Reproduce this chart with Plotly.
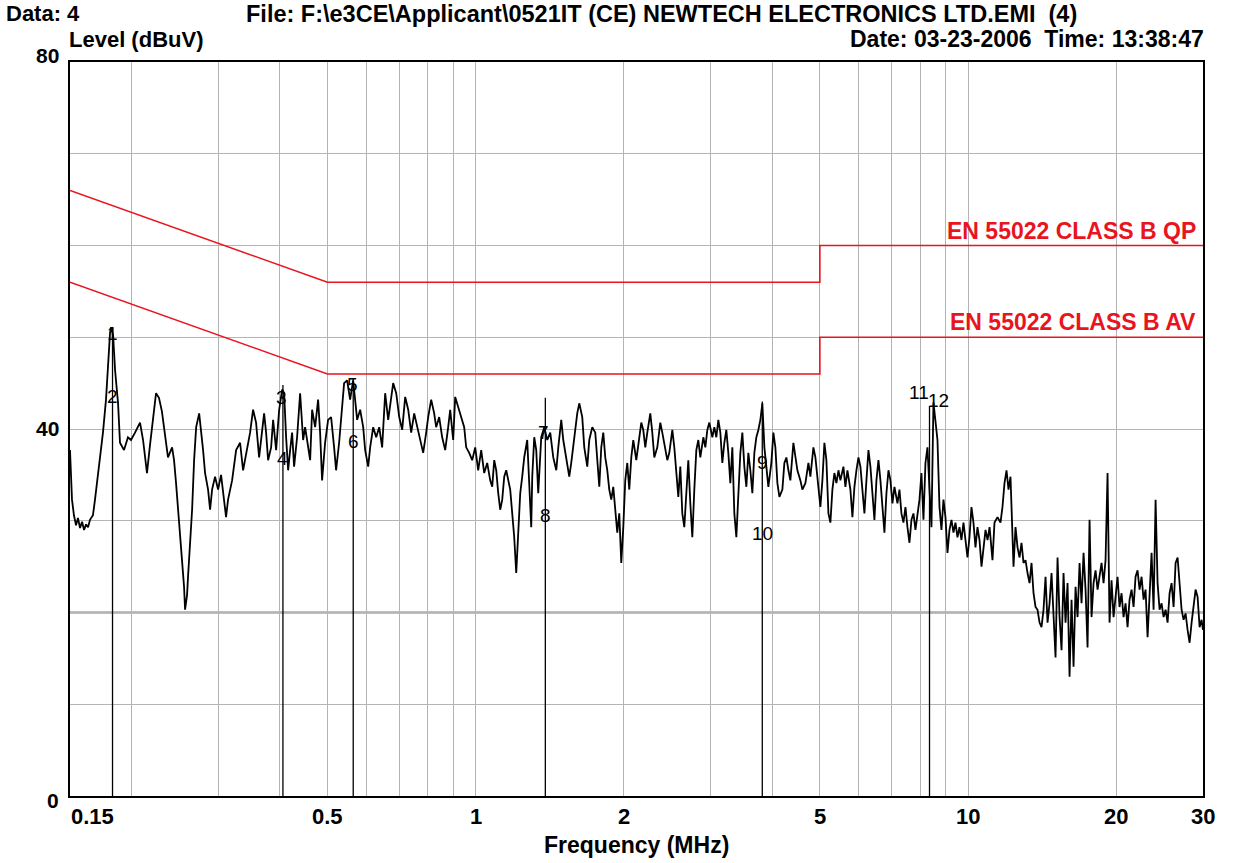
import math
import plotly.graph_objects as go

# ---------------- data ----------------
trace_freq = [
    0.150, 0.1507, 0.1514, 0.1528, 0.1543, 0.1557, 0.1572, 0.1587, 0.1602, 0.1617,
    0.1632, 0.1647, 0.1670, 0.1686, 0.1709, 0.1726, 0.1750, 0.1775, 0.1792, 0.1809,
    0.1818, 0.1835, 0.1852, 0.1878, 0.1895, 0.1931, 0.1967, 0.1995, 0.2033, 0.2081,
    0.2111, 0.2130, 0.2150, 0.2181, 0.2222, 0.2243, 0.2274, 0.2306, 0.2328, 0.2372,
    0.2418, 0.2440, 0.2463, 0.2498, 0.2533, 0.2557, 0.2569, 0.2593, 0.2605, 0.2630,
    0.2655, 0.2680, 0.2706, 0.2744, 0.2769, 0.2795, 0.2821, 0.2861, 0.2888, 0.2915,
    0.2956, 0.2998, 0.3040, 0.3083, 0.3112, 0.3141, 0.3201, 0.3262, 0.3323, 0.3370,
    0.3418, 0.3482, 0.3531, 0.3581, 0.3632, 0.3683, 0.3718, 0.3753, 0.3788, 0.3842,
    0.3878, 0.3933, 0.3989, 0.4045, 0.4083, 0.4121, 0.4160, 0.4199, 0.4238, 0.4278,
    0.4338, 0.4400,
    0.4462, 0.4504, 0.4568, 0.4611, 0.4654, 0.4720, 0.4786, 0.4831, 0.4876, 0.4945,
    0.5015, 0.5086, 0.5158, 0.5206, 0.5280, 0.5355, 0.5405, 0.5481, 0.5559, 0.5638,
    0.5691, 0.5745, 0.5826, 0.5909, 0.5964, 0.6049, 0.6105, 0.6192, 0.6280, 0.6369,
    0.6457, 0.6549, 0.6642, 0.6704, 0.6799, 0.6896, 0.6994, 0.7091, 0.7192, 0.7294,
    0.7396, 0.7501, 0.7607, 0.7714, 0.7823, 0.7934, 0.8008, 0.8121, 0.8236, 0.8313,
    0.8431, 0.8550, 0.8671, 0.8794, 0.8876, 0.9001, 0.9086, 0.9214, 0.9346, 0.9477,
    0.9566, 0.9701, 0.9839, 0.9978, 1.0118, 1.0262, 1.0407, 1.0554, 1.0703, 1.0804,
    1.0906, 1.1009, 1.1112, 1.1216, 1.1322, 1.1428, 1.1535, 1.1644, 1.1753, 1.1864,
    1.1975, 1.2088, 1.2201, 1.2316, 1.2432, 1.2548, 1.2725, 1.2845, 1.2967,
    1.3028, 1.3150, 1.3274, 1.3398, 1.3588, 1.3781, 1.3976, 1.4172, 1.4373, 1.4577,
    1.4716, 1.4921, 1.5062, 1.5276, 1.5490, 1.5635, 1.5857, 1.6079, 1.6232, 1.6461,
    1.6616, 1.6852, 1.7010, 1.7250, 1.7494, 1.7659, 1.7825, 1.7991, 1.8161, 1.8331,
    1.8504, 1.8677, 1.8853, 1.9030, 1.9210, 1.9389, 1.9571, 1.9756, 1.9942, 2.0127,
    2.0317, 2.0509, 2.0703, 2.0897, 2.1193, 2.1392, 2.1694, 2.1897, 2.2103, 2.2311,
    2.2627, 2.2840, 2.3054, 2.3381, 2.3711, 2.3933, 2.4273, 2.4501, 2.4731, 2.5081,
    2.5316, 2.5554, 2.5794, 2.6037, 2.6281, 2.6528, 2.6777, 2.7029, 2.7284, 2.7540,
    2.7799, 2.8060, 2.8324, 2.8591, 2.8997, 2.9269, 2.9545, 2.9821, 3.0243, 3.0526,
    3.0814, 3.1103, 3.1396, 3.1691, 3.1988, 3.2288, 3.2591, 3.2900, 3.3209, 3.3521,
    3.3836, 3.4154, 3.4476, 3.4800, 3.5127, 3.5457, 3.5790, 3.6127, 3.6467, 3.6809,
    3.7155, 3.7504, 3.7858, 3.8213, 3.8573, 3.8935, 3.9300,
    3.9857, 4.0234, 4.0611, 4.0996, 4.1381, 4.1963, 4.2358, 4.2757, 4.3164, 4.3563,
    4.4182, 4.4595, 4.5018, 4.5650, 4.6079, 4.6732, 4.7398, 4.7836, 4.8515, 4.8970,
    4.9668, 5.0128, 5.0599, 5.1075, 5.1557, 5.2048, 5.2529, 5.3023, 5.3521, 5.4026,
    5.4541, 5.5045, 5.5827, 5.6350, 5.6883, 5.7682, 5.8224, 5.8774, 5.9326, 5.9890,
    6.0445, 6.1013, 6.1588, 6.2168, 6.2758, 6.3340, 6.3935, 6.4538, 6.5145, 6.5764,
    6.6374, 6.6998, 6.7629, 6.8266, 6.8915, 6.9554, 7.0208, 7.0869, 7.1877, 7.2553,
    7.3229, 7.3921, 7.4614, 7.5318, 7.6029, 7.6736, 7.7456, 7.8187, 7.8924, 7.9670,
    8.0411, 8.1168, 8.1932, 8.2707, 8.3485, 8.4263, 8.5058, 8.5858, 8.6667, 8.7484,
    8.8300, 8.9132, 8.9970, 9.0818, 9.1673, 9.2530, 9.3400, 9.4279, 9.5168, 9.6064,
    9.6961, 9.7875, 9.8792, 9.9725, 10.066, 10.160, 10.255, 10.353, 10.450, 10.549,
    10.648, 10.748, 10.850, 10.953, 11.057,
    11.209, 11.315, 11.476, 11.637, 11.746, 11.857, 11.969, 12.083, 12.195, 12.310,
    12.368, 12.484, 12.602, 12.721, 12.839, 12.959, 13.082, 13.205, 13.331, 13.454,
    13.581, 13.709, 13.838, 13.969, 14.098, 14.231, 14.365, 14.501, 14.637, 14.774,
    14.913, 15.053, 15.195, 15.339, 15.481, 15.627, 15.774, 15.923, 16.073, 16.223,
    16.376, 16.530, 16.686, 16.843, 17.000, 17.160, 17.322, 17.485, 17.649, 17.814,
    17.982, 18.151, 18.322, 18.494, 18.667, 18.842, 19.020, 19.199, 19.378, 19.561,
    19.745, 19.931, 20.118, 20.305, 20.498, 20.690, 20.885, 21.082, 21.280, 21.480,
    21.682, 21.886, 22.091, 22.299, 22.509, 22.721, 22.934, 23.150, 23.367, 23.587,
    23.809, 24.034, 24.259, 24.488, 24.717, 24.950, 25.185, 25.422, 25.661, 25.901,
    26.145, 26.391, 26.640, 26.890, 27.142, 27.396, 27.654, 27.914, 28.177, 28.442,
    28.708, 28.978, 29.250, 29.526, 29.804, 30.0,
]

trace_level = [
    37.7, 34.4, 32.3, 30.6, 29.5, 30.3, 29.2, 29.9, 29.0, 29.6,
    29.3, 30.1, 30.6, 32.3, 34.8, 37.2, 39.6, 43.2, 47.0, 50.5,
    51.1, 50.2, 46.4, 42.8, 38.5, 37.7, 39.1, 38.8, 39.6, 40.7,
    38.8, 36.9, 35.2, 38.3, 42.1, 43.9, 43.4, 41.9, 40.2, 36.9,
    38.0, 36.6, 34.1, 29.8, 26.0, 22.8, 20.3, 21.9, 23.9, 27.6,
    31.2, 36.6, 40.2, 41.7, 39.9, 37.7, 35.2, 33.4, 31.2, 33.4,
    34.8, 33.4, 35.0, 32.6, 30.4, 32.3, 34.4, 37.7, 38.5, 35.5,
    37.4, 39.6, 42.1, 40.7, 36.9, 40.2, 41.7, 39.6, 36.6, 38.0,
    41.0, 37.7, 42.1, 44.3, 43.9, 39.1, 35.5, 37.7, 39.6, 35.9,
    39.1, 43.9,
    38.8, 40.2, 37.7, 36.6, 42.1, 40.2, 43.2, 39.6, 34.4, 38.5,
    41.0, 41.3, 38.0, 35.5, 38.5, 42.4, 45.0, 45.3, 43.2, 45.3,
    43.2, 41.0, 42.1, 40.2, 37.7, 35.9, 38.0, 40.2, 39.1, 40.2,
    38.0, 43.9, 41.0, 42.8, 45.0, 43.9, 41.3, 39.9, 43.5, 42.1,
    39.6, 41.7, 40.2, 38.8, 37.4, 39.6, 41.3, 43.2, 41.7, 40.2,
    41.3, 39.1, 37.7, 40.2, 42.1, 38.8, 43.5, 42.4, 41.3, 40.2,
    38.0, 37.4, 36.6, 38.0, 35.5, 37.7, 35.2, 36.3, 34.4, 33.7,
    36.6, 35.5, 33.0, 31.2, 32.3, 34.8, 35.5, 34.4, 33.4, 30.8,
    28.2, 24.3, 28.7, 33.0, 34.8, 36.9, 38.8, 33.7, 29.3,
    34.8, 39.1, 37.7, 33.0, 39.1, 40.2, 38.8, 39.6, 36.9, 35.5,
    38.0, 41.0, 38.8, 36.6, 34.8, 36.3, 39.1, 41.7, 42.8, 41.3,
    38.0, 35.9, 38.8, 40.2, 39.6, 36.9, 33.7, 38.0, 39.6, 36.9,
    35.5, 33.4, 32.3, 33.7, 31.5, 28.7, 30.8, 25.4, 29.3, 34.4,
    36.3, 33.4, 36.9, 38.8, 36.6, 38.5, 40.7, 39.9, 38.0, 39.6,
    41.7, 39.6, 36.9, 38.0, 40.7, 39.6, 37.7, 36.6, 37.4, 39.9,
    38.0, 35.2, 32.6, 35.9, 30.8, 29.3, 33.7, 36.6, 31.9, 28.2,
    33.4, 37.7, 38.8, 36.9, 39.1, 38.0, 39.9, 40.7, 39.1, 40.2,
    39.1, 41.0, 39.6, 36.3, 38.5, 39.9, 37.4, 34.1, 38.0, 30.8,
    28.2, 33.0, 37.4, 39.6, 35.9, 33.7, 37.4, 35.5, 33.0, 37.4,
    39.1, 39.9, 41.0, 42.8, 38.0, 35.9, 33.7,
    36.3, 39.6, 38.0, 34.1, 32.6, 33.4, 36.3, 36.9, 35.5, 34.4,
    38.5, 36.9, 35.5, 34.4, 33.4, 34.1, 36.3, 34.8, 38.0, 36.9,
    33.4, 31.5, 34.4, 38.5, 36.6, 30.8, 29.8, 33.4, 35.2, 34.1,
    35.5, 34.4, 35.9, 33.7, 35.5, 33.4, 30.4, 33.7, 35.5, 36.9,
    35.9, 33.4, 30.8, 34.4, 37.7, 35.9, 33.4, 30.1, 34.4, 36.6,
    34.4, 31.9, 28.7, 33.0, 35.5, 34.4, 31.9, 33.7, 31.9, 33.4,
    30.8, 29.8, 31.5, 29.3, 27.6, 30.1, 30.8, 29.0, 30.4, 32.3,
    35.2, 30.1, 36.3, 38.0, 33.4, 29.3, 42.9, 41.0, 38.8, 31.5,
    29.0, 32.3, 30.4, 26.5, 29.0, 30.1, 28.7, 29.8, 28.2, 29.3,
    27.9, 29.8, 27.9, 26.0, 28.2, 31.5, 29.8, 27.1, 29.3, 27.9,
    25.0, 26.8, 29.0, 27.9, 29.3,
    25.7, 29.8, 30.4, 29.8, 31.5, 34.1, 35.5, 33.4, 34.8, 28.7,
    25.0, 29.3, 27.1, 26.0, 27.6, 25.4, 25.7, 24.3, 23.2, 25.4,
    22.1, 20.6, 20.3, 18.9, 18.4, 20.3, 23.9, 18.9, 21.0, 24.3,
    20.3, 15.1, 26.0, 19.5, 15.9, 24.3, 18.9, 23.2, 13.0, 21.4,
    14.1, 22.8, 19.5, 25.4, 21.0, 26.5, 22.5, 16.2, 30.1, 19.5,
    23.2, 24.6, 22.5, 23.9, 25.4, 23.2, 25.7, 35.2, 18.9, 23.5,
    19.5, 21.7, 23.9, 20.6, 22.1, 19.5, 21.0, 18.4, 21.4, 22.5,
    20.6, 23.9, 24.6, 22.5, 23.9, 21.4, 22.5, 17.3, 22.5, 26.5,
    20.3, 32.3, 23.2, 20.3, 21.0, 19.5, 20.3, 18.9, 22.1, 23.2,
    20.6, 25.4, 26.0, 23.2, 20.3, 19.2, 19.9, 18.1, 16.7, 18.9,
    21.0, 22.5, 21.7, 18.4, 19.2, 18.1,
]

# limit lines
qp_freq = [0.15, 0.5, 5.0, 5.0, 30.0]
qp_level = [66.0, 56.0, 56.0, 60.0, 60.0]
av_freq = [0.15, 0.5, 5.0, 5.0, 30.0]
av_level = [56.0, 46.0, 46.0, 50.0, 50.0]
qp_name = "EN 55022 CLASS B QP"
av_name = "EN 55022 CLASS B AV"

# markers
marker_freq = [0.183, 0.406, 0.564, 1.385, 3.82, 8.35]
marker_top = [51.1, 44.8, 45.5, 43.4, 43.0, 42.5]
label_text = ["1", "2", "3", "4", "5", "6", "7", "8", "9", "10", "11", "12"]
label_freq = [0.183, 0.183, 0.403, 0.406, 0.562, 0.564, 1.375, 1.385, 3.82, 3.82, 7.94, 8.71]
label_level = [50.4, 43.5, 43.4, 36.8, 44.9, 38.6, 39.6, 30.6, 36.4, 28.6, 44.0, 43.1]

# axes
grid_freq = [0.2, 0.3, 0.4, 0.5, 0.6, 0.7, 0.8, 0.9, 1, 2, 3, 4, 5, 6, 7, 8, 9, 10, 20, 30]
grid_level = [10, 20, 30, 40, 50, 60, 70]
x_tick_vals = [0.15, 0.5, 1, 2, 5, 10, 20, 30]
x_tick_text = ["0.15", "0.5", "1", "2", "5", "10", "20", "30"]
y_tick_vals = [0, 40, 80]

header_left = "Data: 4"
header_file = "File: F:\\e3CE\\Applicant\\0521IT (CE) NEWTECH ELECTRONICS LTD.EMI \u00a0(4)"
header_date = "Date: 03-23-2006 \u00a0Time: 13:38:47"
y_title = "Level (dBuV)"
x_title = "Frequency (MHz)"

# ---------------- figure ----------------
W, H = 1235, 863
L, R, T, B = 70, 1203, 62, 796   # plot area in page pixels
FONT = "Liberation Sans, Arial, sans-serif"
RED = "#e8141e"


def px(x):
    return (x - L) / (R - L)


def py(y):
    return (B - y) / (B - T)


fig = go.Figure()

fig.add_shape(type="line", xref="paper", yref="y", x0=0, x1=1, y0=20, y1=20,
              line=dict(color="#a8a8a8", width=2.5), layer="below")

mx, my = [], []
for f, t in zip(marker_freq, marker_top):
    mx += [f, f, None]
    my += [0, t, None]
fig.add_trace(go.Scatter(x=mx, y=my, mode="lines", line=dict(color="black", width=1.3),
                         hoverinfo="skip", showlegend=False))

fig.add_trace(go.Scatter(x=trace_freq, y=trace_level, mode="lines",
                         line=dict(color="black", width=1.8), showlegend=False))

fig.add_trace(go.Scatter(x=qp_freq, y=qp_level, mode="lines", line=dict(color=RED, width=1.6),
                         showlegend=False, name=qp_name))
fig.add_trace(go.Scatter(x=av_freq, y=av_level, mode="lines", line=dict(color=RED, width=1.6),
                         showlegend=False, name=av_name))

ann = []


def txt(text, x, y, xanchor="center", size=23, color="black", bold=True):
    t = "<b>%s</b>" % text if bold else text
    ann.append(dict(text=t, x=x, y=y, xref="paper", yref="paper", xanchor=xanchor, yanchor="middle",
                    showarrow=False, font=dict(family=FONT, size=size, color=color)))


txt(header_left, px(4), py(14), xanchor="left", size=22)
txt(header_file, px(244), py(14), xanchor="left", size=23.5)
txt(y_title, px(67), py(39), xanchor="left", size=22)
txt(header_date, px(1206), py(39), xanchor="right", size=23)
for v in y_tick_vals:
    yy = {0: 800, 40: 428, 80: 56}[v]
    txt(str(v), px(61), py(yy), xanchor="right", size=21)
xpos = {"0.15": 92}
for v, t in zip(x_tick_vals, x_tick_text):
    if t in xpos:
        xx = px(xpos[t])
    else:
        xx = (math.log10(v) - math.log10(0.15)) / (math.log10(30) - math.log10(0.15))
    txt(t, xx, py(816), size=22)
txt(x_title, px(636), py(845), size=23)
txt(qp_name, px(1198), py(231), xanchor="right", size=23, color=RED)
txt(av_name, px(1198), py(322), xanchor="right", size=23, color=RED)

for t, f, lv in zip(label_text, label_freq, label_level):
    ann.append(dict(text=t, x=math.log10(f), y=lv, xref="x", yref="y", showarrow=False,
                    xanchor="center", yanchor="middle",
                    font=dict(family=FONT, size=19, color="black")))

fig.update_layout(
    width=W, height=H,
    margin=dict(l=L, r=W - R, t=T, b=H - B, pad=0),
    paper_bgcolor="white", plot_bgcolor="white",
    annotations=ann,
    showlegend=False,
    xaxis=dict(type="log", range=[math.log10(0.15), math.log10(30)],
               tickvals=grid_freq, showticklabels=False, ticks="",
               showgrid=True, gridcolor="#b4b4b4", gridwidth=1,
               showline=True, linecolor="black", linewidth=2, mirror=True, zeroline=False),
    yaxis=dict(range=[0, 80], tickvals=grid_level, showticklabels=False, ticks="",
               showgrid=True, gridcolor="#b4b4b4", gridwidth=1,
               showline=True, linecolor="black", linewidth=2, mirror=True, zeroline=False),
)

fig.write_html("out.html", config={"displayModeBar": False},
               post_script="document.body.style.margin='0';document.body.style.overflow='hidden';")
